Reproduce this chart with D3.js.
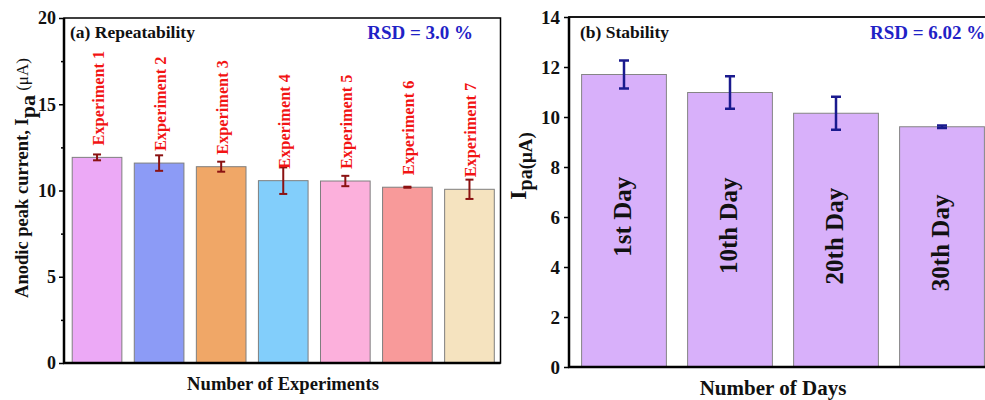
<!DOCTYPE html>
<html>
<head>
<meta charset="utf-8">
<script src="https://cdn.jsdelivr.net/npm/d3@7"></script>
<style>
  html, body { margin: 0; padding: 0; background: #fff; }
  svg text { font-family: "Liberation Serif", "Times New Roman", serif; font-weight: bold; }
</style>
</head>
<body>
<svg id="chart" width="985" height="400"></svg>
<script>
// ---------- data ----------
const expCategories = ["Experiment 1", "Experiment 2", "Experiment 3", "Experiment 4", "Experiment 5", "Experiment 6", "Experiment 7"];
const expValues = [11.92, 11.59, 11.38, 10.57, 10.55, 10.19, 10.07];
const expErrors = [0.17, 0.45, 0.29, 0.77, 0.30, 0.03, 0.56];
const expColors = ["#eca9f6", "#8c9bf6", "#f0a767", "#82cefb", "#fcb0dc", "#f89a9a", "#f5e3bf"];
const expTicks = [0, 5, 10, 15, 20];
const expMinorTicks = [2.5, 7.5, 12.5, 17.5];

const dayCategories = ["1st Day", "10th Day", "20th Day", "30th Day"];
const dayValues = [11.70, 10.98, 10.15, 9.61];
const dayErrors = [0.56, 0.65, 0.66, 0.05];
const dayTicks = [0, 2, 4, 6, 8, 10, 12, 14];

const svg = d3.select("#chart");

// ---------- panel (a) ----------
const aL = 64, aR = 500.5, aT = 18, aB = 363;
const yA = d3.scaleLinear().domain([0, 20]).range([aB, aT]);
const xA = d3.scaleBand().domain(expCategories).range([66, 500.5]).paddingInner(0.2).paddingOuter(0.1);

const gA = svg.append("g");
gA.selectAll("rect.bar").data(expCategories).join("rect")
  .attr("class", "bar")
  .attr("x", d => xA(d))
  .attr("width", xA.bandwidth())
  .attr("y", (d, i) => yA(expValues[i]))
  .attr("height", (d, i) => yA(0) - yA(expValues[i]))
  .attr("fill", (d, i) => expColors[i])
  .attr("stroke", "#7f7f7f").attr("stroke-width", 1);

// error bars
const errA = gA.selectAll("g.err").data(expCategories).join("g").attr("class", "err")
  .attr("stroke", "#8b1212").attr("stroke-width", 2);
errA.append("line")
  .attr("x1", d => xA(d) + xA.bandwidth() / 2).attr("x2", d => xA(d) + xA.bandwidth() / 2)
  .attr("y1", (d, i) => yA(expValues[i] + expErrors[i])).attr("y2", (d, i) => yA(expValues[i] - expErrors[i]));
errA.append("line")
  .attr("x1", d => xA(d) + xA.bandwidth() / 2 - 4).attr("x2", d => xA(d) + xA.bandwidth() / 2 + 4)
  .attr("y1", (d, i) => yA(expValues[i] + expErrors[i])).attr("y2", (d, i) => yA(expValues[i] + expErrors[i]));
errA.append("line")
  .attr("x1", d => xA(d) + xA.bandwidth() / 2 - 4).attr("x2", d => xA(d) + xA.bandwidth() / 2 + 4)
  .attr("y1", (d, i) => yA(expValues[i] - expErrors[i])).attr("y2", (d, i) => yA(expValues[i] - expErrors[i]));

// rotated experiment labels
gA.selectAll("text.lab").data(expCategories).join("text")
  .attr("class", "lab")
  .attr("transform", (d, i) => `translate(${xA(d) + xA.bandwidth() / 2 + 1},${yA(expValues[i]) - 12}) rotate(-90)`)
  .attr("dy", "0.35em")
  .attr("text-anchor", "start")
  .attr("fill", "#f21414")
  .attr("font-size", 16.3)
  .text(d => d);

// axes
const axA = d3.axisLeft(yA).tickValues(expTicks).tickSize(5).tickPadding(3).tickFormat(d3.format("d"));
const gAxA = gA.append("g").attr("transform", `translate(${aL},0)`).call(axA);
gAxA.select(".domain").remove();
gAxA.selectAll("line").attr("stroke", "#000").attr("stroke-width", 1.5);
gAxA.selectAll("text").attr("font-size", 18).attr("fill", "#111").style("font-family", "Liberation Serif").style("font-weight", "bold");
const gAxAm = gA.append("g").attr("transform", `translate(${aL},0)`).call(d3.axisLeft(yA).tickValues(expMinorTicks).tickSize(3).tickFormat(""));
gAxAm.select(".domain").remove();
gAxAm.selectAll("line").attr("stroke", "#000").attr("stroke-width", 1.5);

// frame
gA.append("rect").attr("x", aL).attr("y", aT).attr("width", aR - aL).attr("height", aB - aT)
  .attr("fill", "none").attr("stroke", "#000").attr("stroke-width", 1.5);
gA.append("line").attr("x1", aL).attr("x2", aL).attr("y1", aT).attr("y2", aB + 1).attr("stroke", "#000").attr("stroke-width", 2.5);
gA.append("line").attr("x1", aL - 1).attr("x2", aR).attr("y1", aB).attr("y2", aB).attr("stroke", "#000").attr("stroke-width", 2.5);

// titles
gA.append("text").attr("x", 70).attr("y", 38).attr("font-size", 17.5).attr("fill", "#111").text("(a) Repeatability");
gA.append("text").attr("x", 473).attr("y", 39).attr("text-anchor", "end").attr("font-size", 19).attr("fill", "#1f22c6").text("RSD = 3.0 %");

// axis labels
gA.append("text").attr("x", 283).attr("y", 390).attr("text-anchor", "middle").attr("font-size", 18.6).attr("fill", "#111")
  .text("Number of Experiments");
const yLabA = gA.append("text").attr("transform", "translate(28,178) rotate(-90)").attr("text-anchor", "middle").attr("fill", "#111");
yLabA.append("tspan").attr("font-size", 18.5).text("Anodic peak current, I");
yLabA.append("tspan").attr("font-size", 22).attr("dy", 7).text("pa");
yLabA.append("tspan").attr("font-size", 17).attr("dy", -7).style("font-weight", "normal").text(" (μA)");

// ---------- panel (b) ----------
const bL = 569, bR = 995, bT = 17, bB = 367;
const yB = d3.scaleLinear().domain([0, 14]).range([bB, bT]);
const xB = d3.scaleBand().domain(dayCategories).range([571, 995]).paddingInner(0.2).paddingOuter(0.1);

const gB = svg.append("g");
gB.selectAll("rect.bar").data(dayCategories).join("rect")
  .attr("class", "bar")
  .attr("x", d => xB(d))
  .attr("width", xB.bandwidth())
  .attr("y", (d, i) => yB(dayValues[i]))
  .attr("height", (d, i) => yB(0) - yB(dayValues[i]))
  .attr("fill", "#d8b0fa")
  .attr("stroke", "#858585").attr("stroke-width", 1);

const errB = gB.selectAll("g.err").data(dayCategories).join("g").attr("class", "err")
  .attr("stroke", "#1a1a8e").attr("stroke-width", 2.5);
errB.append("line")
  .attr("x1", d => xB(d) + xB.bandwidth() / 2).attr("x2", d => xB(d) + xB.bandwidth() / 2)
  .attr("y1", (d, i) => yB(dayValues[i] + dayErrors[i])).attr("y2", (d, i) => yB(dayValues[i] - dayErrors[i]));
errB.append("line")
  .attr("x1", d => xB(d) + xB.bandwidth() / 2 - 5).attr("x2", d => xB(d) + xB.bandwidth() / 2 + 5)
  .attr("y1", (d, i) => yB(dayValues[i] + dayErrors[i])).attr("y2", (d, i) => yB(dayValues[i] + dayErrors[i]));
errB.append("line")
  .attr("x1", d => xB(d) + xB.bandwidth() / 2 - 5).attr("x2", d => xB(d) + xB.bandwidth() / 2 + 5)
  .attr("y1", (d, i) => yB(dayValues[i] - dayErrors[i])).attr("y2", (d, i) => yB(dayValues[i] - dayErrors[i]));

gB.selectAll("text.lab").data(dayCategories).join("text")
  .attr("class", "lab")
  .attr("transform", (d, i) => `translate(${xB(d) + xB.bandwidth() / 2 - 2},${yB(dayValues[i] / 2) - 4}) rotate(-90)`)
  .attr("dy", "0.35em")
  .attr("text-anchor", "middle")
  .attr("fill", "#111")
  .attr("font-size", 25)
  .text(d => d);

const axB = d3.axisLeft(yB).tickValues(dayTicks).tickSize(5).tickPadding(4).tickFormat(d3.format("d"));
const gAxB = gB.append("g").attr("transform", `translate(${bL},0)`).call(axB);
gAxB.select(".domain").remove();
gAxB.selectAll("line").attr("stroke", "#000").attr("stroke-width", 1.5);
gAxB.selectAll("text").attr("font-size", 19).attr("fill", "#111").style("font-family", "Liberation Serif").style("font-weight", "bold");

gB.append("rect").attr("x", bL).attr("y", bT).attr("width", bR - bL).attr("height", bB - bT)
  .attr("fill", "none").attr("stroke", "#000").attr("stroke-width", 1.8);
gB.append("line").attr("x1", bL).attr("x2", bL).attr("y1", bT).attr("y2", bB + 1).attr("stroke", "#000").attr("stroke-width", 2.5);
gB.append("line").attr("x1", bL - 1).attr("x2", bR).attr("y1", bB).attr("y2", bB).attr("stroke", "#000").attr("stroke-width", 2.5);

gB.append("text").attr("x", 580).attr("y", 38).attr("font-size", 17.5).attr("fill", "#111").text("(b) Stability");
gB.append("text").attr("x", 870).attr("y", 39).attr("font-size", 19).attr("fill", "#1f22c6").text("RSD = 6.02 %");

gB.append("text").attr("x", 773).attr("y", 395).attr("text-anchor", "middle").attr("font-size", 21).attr("fill", "#111")
  .text("Number of Days");
const yLabB = gB.append("text").attr("transform", "translate(526,166) rotate(-90)").attr("text-anchor", "middle").attr("fill", "#111");
yLabB.append("tspan").attr("font-size", 24).text("I");
yLabB.append("tspan").attr("font-size", 20).attr("dy", 6).text("pa");
yLabB.append("tspan").attr("font-size", 19).text("(μA)");
</script>
</body>
</html>
